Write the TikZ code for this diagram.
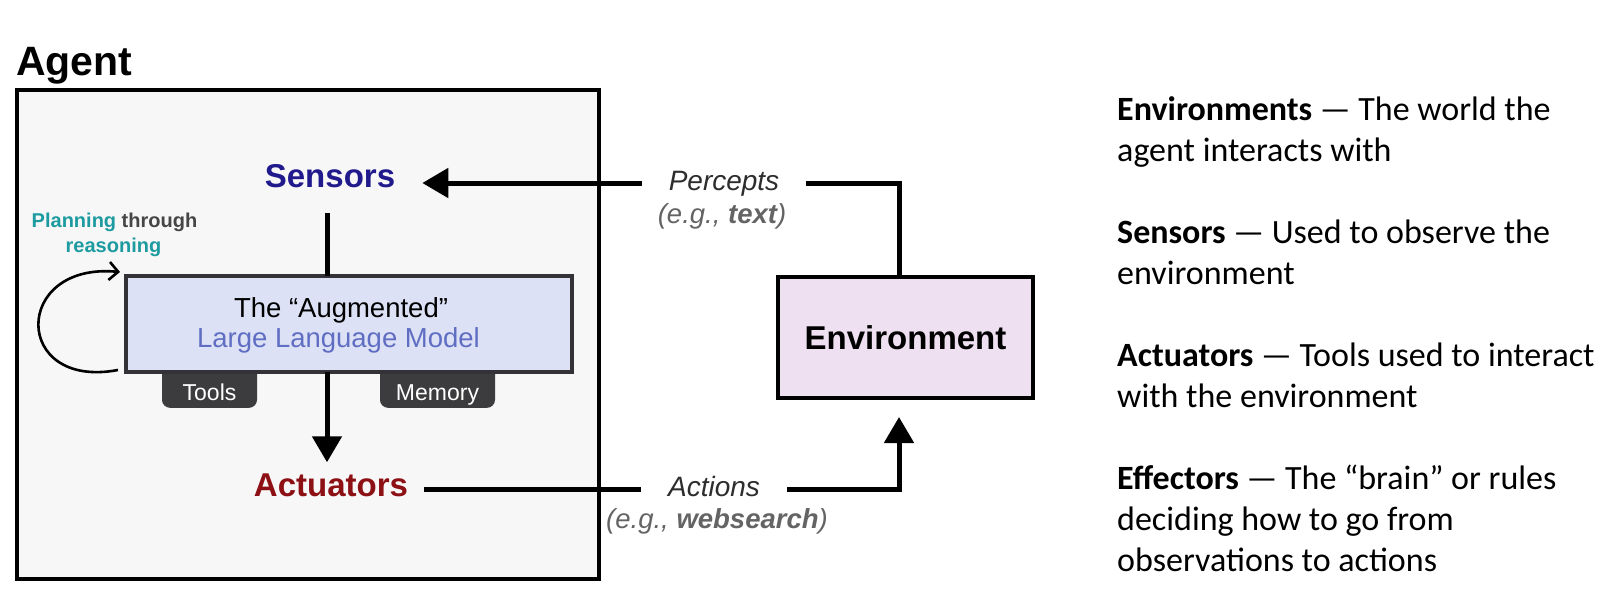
\documentclass[tikz,border=0pt]{standalone}
\usepackage{fontspec}
\usetikzlibrary{arrows.meta,calc}
\newfontfamily\diagfont{Liberation Sans}
\newfontfamily\notefont{Carlito}
\definecolor{sensorblue}{RGB}{33,26,140}
\definecolor{actred}{RGB}{140,16,20}
\definecolor{llmtext}{RGB}{95,110,195}
\definecolor{llmfill}{RGB}{221,225,245}
\definecolor{llmborder}{RGB}{50,50,55}
\definecolor{planteal}{RGB}{30,155,160}
\definecolor{throughgray}{RGB}{70,70,70}
\definecolor{tabfill}{RGB}{60,60,62}
\definecolor{agentfill}{RGB}{247,247,247}
\definecolor{envfill}{RGB}{238,224,240}
\definecolor{labeldark}{RGB}{45,45,45}
\definecolor{labelgray}{RGB}{100,100,100}
\begin{document}
\begin{tikzpicture}[x=1pt,y=-1pt,
  conn/.style={line width=5pt},
  tri/.style={-{Triangle[length=26pt,width=29pt]}},
  bigword/.style={inner sep=0pt, font=\diagfont\bfseries\fontsize{33}{33}\selectfont},
  tab/.style={fill=tabfill, rounded corners=8pt, inner sep=0pt, minimum height=48pt,
    text height=40pt, text depth=6pt, text=white, anchor=south,
    font=\diagfont\fontsize{23}{23}\selectfont},
  flowlabel/.style={inner ysep=0pt, inner xsep=27pt, text height=20pt, text depth=6pt,
    text=labeldark, font=\diagfont\itshape\fontsize{28}{28}\selectfont},
  example/.style={inner sep=0pt, anchor=base, text=labelgray,
    font=\diagfont\itshape\fontsize{27.5}{27.5}\selectfont},
  plan/.style={inner sep=0pt, anchor=base, font=\diagfont\bfseries\fontsize{20}{20}\selectfont},
  llmline/.style={inner sep=0pt, anchor=base, font=\diagfont\fontsize{27.5}{27.5}\selectfont},
  note/.style={inner sep=0pt, anchor=base west,
    font=\notefont\fontsize{34}{41}\selectfont}
]
\useasboundingbox (0,0) rectangle (1616,594);
\fill[white] (0,0) rectangle (1616,594);

% agent frame
\node[anchor=base west, inner sep=0pt, font=\diagfont\bfseries\fontsize{41}{41}\selectfont] (agentlbl) at (16,75) {Agent};
\node[draw, line width=4pt, fill=agentfill, minimum width=582.5pt, minimum height=489pt,
  inner sep=0pt, outer sep=0pt, anchor=north west] (agent) at (16.5,90) {};

\coordinate (spine) at (327,0);
\coordinate (envx) at (899,0);

% inner nodes
\node[bigword, text=sensorblue] (sens) at (330,176.5) {Sensors};
\node[bigword, text=actred] (act) at (331,485) {Actuators};

\node[tab, minimum width=95pt] (tools) at (209.5,408) {Tools};
\node[tab, minimum width=115pt] (memory) at (437.5,408) {Memory};

\node[draw=llmborder, line width=3.5pt, fill=llmfill, minimum width=446pt, minimum height=96pt,
  inner sep=0pt, outer sep=0pt] (llm) at (349,324) {};
\node[llmline] (llmtop) at (341,317) {The “Augmented”};
\node[llmline, text=llmtext] (llmbot) at (338.5,347) {Large Language Model};

\node[plan] (plan1) at (114.5,227) {\textcolor{planteal}{Planning} \textcolor{throughgray}{through}};
\node[plan, text=planteal] (plan2) at (113.5,252) {reasoning};

% environment
\node[draw, line width=3.5pt, fill=envfill, minimum width=255pt, minimum height=121pt,
  outer sep=0pt, inner sep=0pt, font=\diagfont\bfseries\fontsize{33}{33}\selectfont] (env) at (905.5,337.5) {Environment};

% flow labels
\node[flowlabel] (perc) at (724,183) {Percepts};
\node[example] (percex) at (722,223) {(e.g., \textbf{text})};
\node[flowlabel] (actn) at (714,489) {Actions};
\node[example] (actnex) at (717,528) {(e.g., \textbf{websearch})};

% connectors
\draw[conn] ([yshift=-25pt]sens.south -| spine) -- (llm.north -| spine);
\draw[conn, tri] (llm.south -| spine) -- ([yshift=11pt]act.north -| spine);
\draw[conn] (env.north -| envx) |- (perc.east);
\draw[conn, tri] (perc.west) -- ([xshift=27pt]sens.east |- perc.west);
\draw[conn] ([xshift=16pt]act.east |- actn.west) -- (actn.west);
\draw[conn, tri] (actn.east) -| ([yshift=-19pt]env.south -| envx);
\draw[line width=2.6pt, -{Straight Barb[length=9pt,width=18pt]}]
  ([xshift=-8pt,yshift=2pt]llm.south west) .. controls (12,390) and (12,262) .. ([xshift=-6pt,yshift=4pt]llm.north west);

% notes
\node[note] (n1a) at (1117,120) {\textbf{Environments} — The world the};
\node[note] (n1b) at (1117,161) {agent interacts with};
\node[note] (n2a) at (1117,243) {\textbf{Sensors} — Used to observe the};
\node[note] (n2b) at (1117,284) {environment};
\node[note] (n3a) at (1117,366) {\textbf{Actuators} — Tools used to interact};
\node[note] (n3b) at (1117,407) {with the environment};
\node[note] (n4a) at (1117,489) {\textbf{Effectors} — The “brain” or rules};
\node[note] (n4b) at (1117,530) {deciding how to go from};
\node[note] (n4c) at (1117,571) {observations to actions};
\end{tikzpicture}
\end{document}
